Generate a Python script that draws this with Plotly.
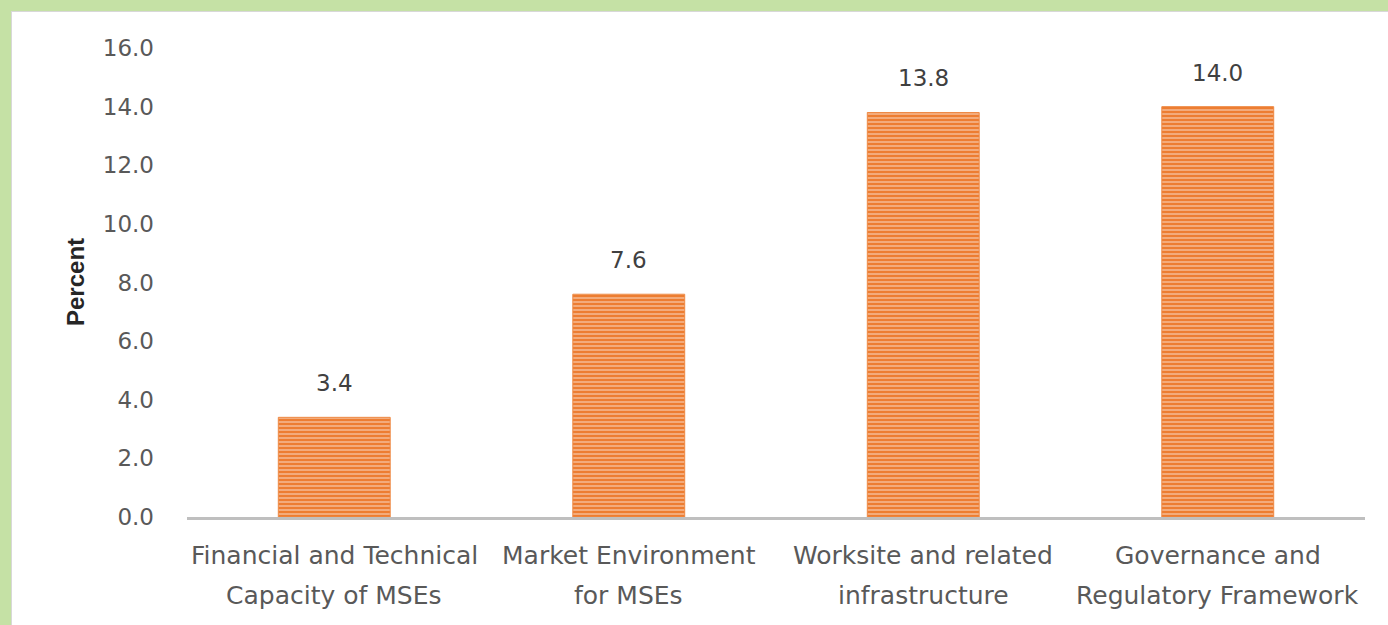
import plotly.graph_objects as go

categories = [
    "Financial and Technical<br>Capacity of MSEs",
    "Market Environment<br>for MSEs",
    "Worksite and related<br>infrastructure",
    "Governance and<br>Regulatory Framework",
]
values = [3.4, 7.6, 13.8, 14.0]
value_labels = ["3.4", "7.6", "13.8", "14.0"]
y_ticks = [0, 2, 4, 6, 8, 10, 12, 14, 16]
y_tick_labels = ["0.0", "2.0", "4.0", "6.0", "8.0", "10.0", "12.0", "14.0", "16.0"]
y_title = "Percent"

W, H = 1388, 625
L, R, T, B = 187, 23, 48, 108
pw, ph = W - L - R, H - T - B

def px_x(p):
    return (p - L) / pw

def px_y(p):
    return (H - B - p) / ph

FONT = "DejaVu Sans"
GRAY = "#595959"

fig = go.Figure()
fig.add_trace(go.Bar(
    x=categories,
    y=values,
    marker=dict(
        color="#ED7D31",
        line=dict(color="#EE8A45", width=1),
        pattern=dict(shape="-", fgcolor="#FCE4D6", bgcolor="#ED7D31", size=4, solidity=0.45),
    ),
    width=0.38,
))

annotations = []
for c, v, lab in zip(categories, values, value_labels):
    annotations.append(dict(x=c, y=v, xref="x", yref="y", text=lab, showarrow=False,
                            yanchor="bottom", yshift=19,
                            font=dict(family=FONT, size=23, color="#404040")))
for c in categories:
    l1, l2 = c.split("<br>")
    annotations.append(dict(x=c, y=px_y(555), xref="x", yref="paper", text=l1, showarrow=False,
                            yanchor="middle", font=dict(family=FONT, size=25, color=GRAY)))
    annotations.append(dict(x=c, y=px_y(595), xref="x", yref="paper", text=l2, showarrow=False,
                            yanchor="middle", font=dict(family=FONT, size=25, color=GRAY)))
annotations.append(dict(x=px_x(75), y=px_y(282), xref="paper", yref="paper", text="<b>" + y_title + "</b>",
                        showarrow=False, textangle=-90, xanchor="center", yanchor="middle",
                        font=dict(family="Liberation Sans", size=24, color="#262626")))

green = "#C5E1A5"
shapes = [
    dict(type="rect", xref="paper", yref="paper", x0=px_x(-5), x1=px_x(11), y0=px_y(630), y1=px_y(-5),
         fillcolor=green, line=dict(width=0), layer="above"),
    dict(type="rect", xref="paper", yref="paper", x0=px_x(-5), x1=px_x(1395), y0=px_y(11), y1=px_y(-5),
         fillcolor=green, line=dict(width=0), layer="above"),
    dict(type="line", xref="paper", yref="paper", x0=px_x(11.5), x1=px_x(11.5), y0=px_y(630), y1=px_y(11),
         line=dict(color="#D8D8D8", width=1)),
    dict(type="line", xref="paper", yref="paper", x0=px_x(11), x1=px_x(1395), y0=px_y(11.5), y1=px_y(11.5),
         line=dict(color="#D8D8D8", width=1)),
]

fig.update_layout(
    width=W, height=H,
    margin=dict(l=L, r=R, t=T, b=B, pad=0),
    paper_bgcolor="white",
    plot_bgcolor="white",
    showlegend=False,
    shapes=shapes,
    annotations=annotations,
    font=dict(family=FONT, color=GRAY),
)
fig.update_xaxes(
    showline=True, linecolor="#BFBFBF", linewidth=3,
    showgrid=False, ticks="", showticklabels=False,
)
fig.update_yaxes(
    range=[0, 16], tickvals=y_ticks, ticktext=y_tick_labels,
    showgrid=False, showline=False, zeroline=False, ticks="",
    ticklabelstandoff=32,
    tickfont=dict(family=FONT, size=23, color=GRAY),
)

fig.write_html("out.html", config={"displayModeBar": False},
               post_script="document.body.style.margin='0';document.body.style.overflow='hidden';")
